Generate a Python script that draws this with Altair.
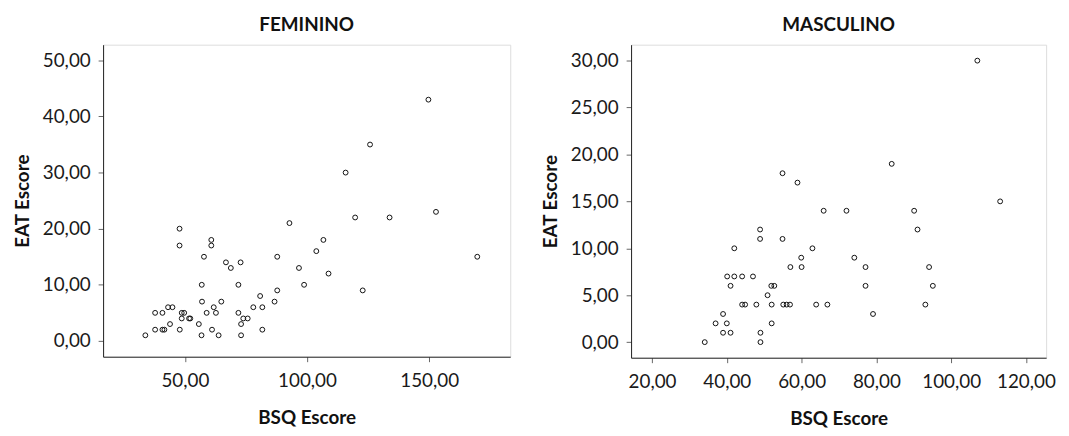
import altair as alt
import pandas as pd

# FEMININO panel
fem_bsq = [33.8, 56.8, 63.8, 73.0,
           37.8, 40.8, 41.6, 47.9, 61.1, 81.7,
           43.9, 55.7, 73.0,
           48.7, 51.7, 52.2, 73.9, 75.7,
           37.8, 40.8, 48.7, 49.7, 58.9, 62.7, 71.9,
           43.1, 44.9, 61.8, 78.0, 81.7,
           57.0, 64.9, 86.7,
           80.8,
           87.8, 122.8,
           56.9, 71.9, 98.8,
           108.8,
           68.8, 96.7,
           66.8, 72.8,
           57.8, 87.8, 169.7,
           103.8,
           47.8, 60.8,
           60.8, 106.7,
           47.8,
           92.8,
           119.7, 133.8,
           152.8,
           115.8,
           125.8,
           149.7]
fem_eat = [1, 1, 1, 1,
           2, 2, 2, 2, 2, 2,
           3, 3, 3,
           4, 4, 4, 4, 4,
           5, 5, 5, 5, 5, 5, 5,
           6, 6, 6, 6, 6,
           7, 7, 7,
           8,
           9, 9,
           10, 10, 10,
           12,
           13, 13,
           14, 14,
           15, 15, 15,
           16,
           17, 17,
           18, 18,
           20,
           21,
           22, 22,
           23,
           30,
           35,
           43]

# MASCULINO panel
mas_bsq = [34.1, 49.0,
           39.0, 41.0, 49.0,
           37.0, 40.0, 52.0,
           39.0, 79.1,
           44.1, 44.9, 47.9, 52.0, 55.1, 56.0, 56.9, 63.9, 66.9, 93.1,
           50.9,
           41.0, 51.9, 52.7, 77.1, 95.1,
           40.1, 42.0, 44.1, 47.0,
           57.0, 60.0, 77.1, 94.1,
           59.9, 74.1,
           42.0, 62.9,
           48.9, 54.9,
           48.9, 91.0,
           65.9, 72.0, 90.1,
           113.1,
           58.9,
           54.9,
           84.1,
           107.0]
mas_eat = [0, 0,
           1, 1, 1,
           2, 2, 2,
           3, 3,
           4, 4, 4, 4, 4, 4, 4, 4, 4, 4,
           5,
           6, 6, 6, 6, 6,
           7, 7, 7, 7,
           8, 8, 8, 8,
           9, 9,
           10, 10,
           11, 11,
           12, 12,
           14, 14, 14,
           15,
           17,
           18,
           19,
           30]

fem_x_ticks = [50, 100, 150]
fem_y_ticks = [0, 10, 20, 30, 40, 50]
mas_x_ticks = [20, 40, 60, 80, 100, 120]
mas_y_ticks = [0, 5, 10, 15, 20, 25, 30]

FONT = "Lato"
label_expr = "replace(format(datum.value, '.2f'), '.', ',')"

df_f = pd.DataFrame({"BSQ": fem_bsq, "EAT": fem_eat})
df_m = pd.DataFrame({"BSQ": mas_bsq, "EAT": mas_eat})


def axis(values, orient):
    common = dict(values=values, labelExpr=label_expr, grid=False,
                  tickSize=5, tickColor="#666", domainColor="#222",
                  labelFont=FONT, labelFontSize=19, labelColor="#1a1a1a",
                  titleFont=FONT, titleFontSize=19, titleFontWeight="bold",
                  titleColor="#111")
    if orient == "x":
        common.update(labelPadding=10, titlePadding=18)
    else:
        common.update(labelPadding=8, titlePadding=10)
    return alt.Axis(**common)


def panel(df, title, xdom, ydom, xt, yt, w, h):
    return alt.Chart(df).mark_point(
        shape="circle", filled=False, color="#111", size=24, strokeWidth=1, opacity=1
    ).encode(
        x=alt.X("BSQ:Q", title="BSQ Escore",
                scale=alt.Scale(domain=xdom, nice=False, zero=False),
                axis=axis(xt, "x")),
        y=alt.Y("EAT:Q", title="EAT Escore",
                scale=alt.Scale(domain=ydom, nice=False, zero=False),
                axis=axis(yt, "y")),
    ).properties(
        width=w, height=h,
        title=alt.TitleParams(title, font=FONT, fontSize=19, fontWeight="bold",
                              color="#111", offset=10, anchor="middle"),
    )


left = panel(df_f, "FEMININO", [16.5, 183.2], [-2.82, 52.8],
             fem_x_ticks, fem_y_ticks, 411, 315)
right = panel(df_m, "MASCULINO", [14.4, 125.4], [-1.66, 31.7],
              mas_x_ticks, mas_y_ticks, 419, 316)

chart = alt.hconcat(left, right, spacing=30).configure_view(
    fill="#f4f4f4", stroke="#222", strokeWidth=1
).configure(background="white")

chart.save("out.html", embed_options={"renderer": "svg", "actions": False})
